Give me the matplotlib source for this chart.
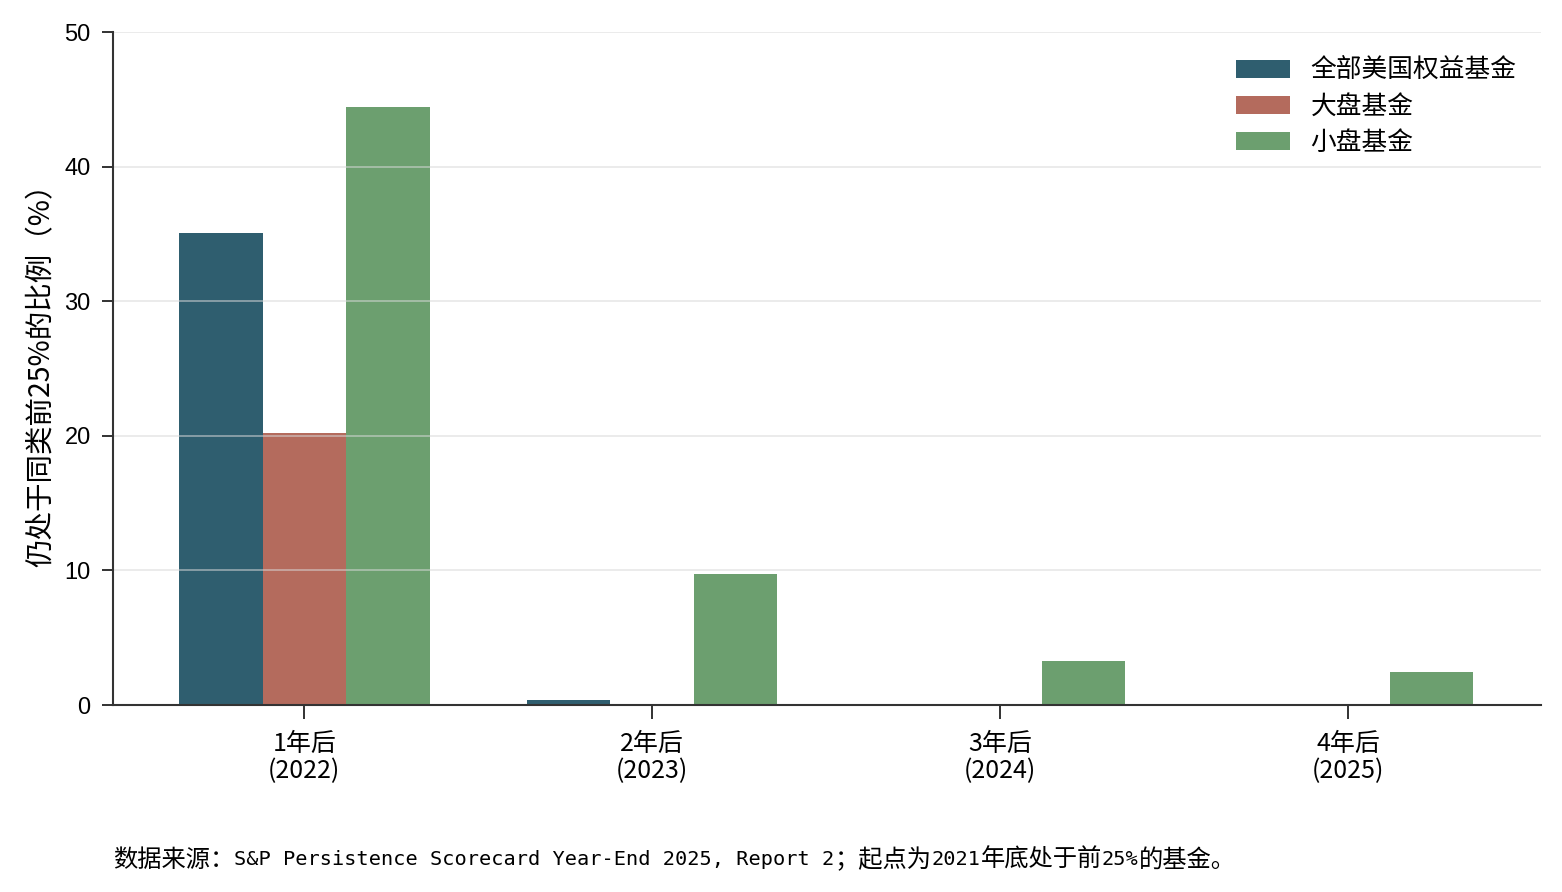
import matplotlib
matplotlib.use("Agg")
import matplotlib.pyplot as plt
import numpy as np

plt.rcParams['font.family'] = ['Noto Sans CJK SC', 'DejaVu Sans']

categories = ["1年后\n(2022)", "2年后\n(2023)", "3年后\n(2024)", "4年后\n(2025)"]
series_names = ["全部美国权益基金", "大盘基金", "小盘基金"]
all_funds = [35.1, 0.4, 0.0, 0.0]
large_cap = [20.2, 0.0, 0.0, 0.0]
small_cap = [44.4, 9.7, 3.3, 2.45]
colors = ["#2F5E6F", "#B46B5D", "#6C9F6F"]
yticks = [0, 10, 20, 30, 40, 50]
footnote_parts = ["数据来源：", "S&P Persistence Scorecard Year-End 2025, Report 2", "；起点为",
                  "2021", "年底处于前", "25%", "的基金。"]

fig = plt.figure(figsize=(15.62, 8.92), dpi=100)
ax = fig.add_axes([0.0723, 0.2096, 0.9143, 0.7545])

x = np.arange(len(categories))
w = 0.24
for i, (vals, name, c) in enumerate(zip([all_funds, large_cap, small_cap], series_names, colors)):
    ax.bar(x + (i - 1) * w, vals, width=w, color=c, label=name, zorder=1)

ax.set_xlim(-0.55, 3.555)
ax.set_ylim(0, 50)
ax.set_yticks(yticks)
ax.set_yticklabels([str(t) for t in yticks], family=['Liberation Sans', 'DejaVu Sans'], fontsize=17)
ax.set_xticks(x)
ax.set_xticklabels(categories, fontsize=18, linespacing=1.05)

for t in yticks[1:]:
    ax.axhline(t, color="#d9d9d9", lw=1.2, alpha=0.6, zorder=2)

for s in ["top", "right"]:
    ax.spines[s].set_visible(False)
for s in ["left", "bottom"]:
    ax.spines[s].set_color("#333333")
    ax.spines[s].set_linewidth(1.5)
    ax.spines[s].set_zorder(3)
ax.tick_params(axis='x', length=10, width=1.3, color="#222222", pad=9)
ax.tick_params(axis='y', length=8, width=1.3, color="#222222", pad=8)

ax.set_ylabel("仍处于同类前25%的比例（%）", fontsize=20.5, labelpad=6)

ax.legend(loc="upper right", bbox_to_anchor=(0.999, 0.996), frameon=False, fontsize=18.5,
          handlelength=2.1, handleheight=0.7, handletextpad=0.8, labelspacing=0.4)

# footnote: CJK parts in Noto Sans CJK, Latin parts in a narrow monospace font
fig.canvas.draw()
renderer = fig.canvas.get_renderer()
xpos = 0.0723
for part in footnote_parts:
    is_latin = all(ord(ch) < 128 for ch in part)
    if is_latin:
        t = fig.text(xpos, 0.036, part, fontsize=14.6, va="center", ha="left",
                     family=['DejaVu Sans Mono'])
    else:
        t = fig.text(xpos, 0.036, part, fontsize=17.5, va="center", ha="left",
                     family=['Noto Sans CJK SC', 'DejaVu Sans'])
    bb = t.get_window_extent(renderer)
    xpos += bb.width / fig.bbox.width

fig.savefig("out.png", dpi=100)
